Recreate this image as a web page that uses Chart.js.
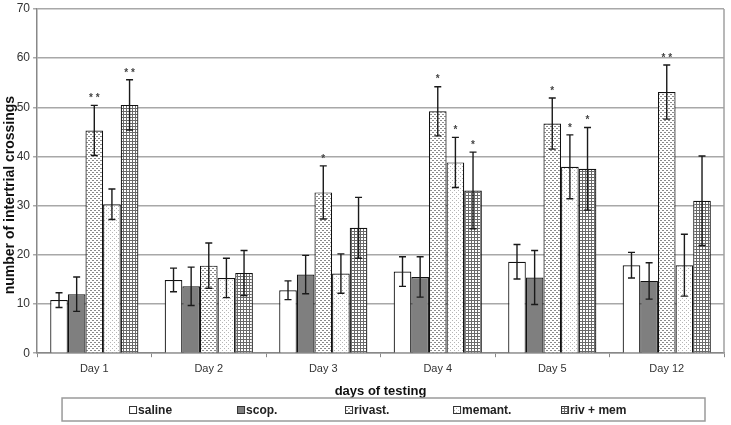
<!DOCTYPE html>
<html>
<head>
<meta charset="utf-8">
<script src="https://cdn.jsdelivr.net/npm/chart.js@4/dist/chart.umd.min.js"></script>
<style>
  body { margin: 0; background: #fff; }
  #wrap { width: 731px; height: 425px; }
</style>
</head>
<body>
<div id="wrap"><canvas id="myChart" width="731" height="425"></canvas></div>
<script>
// data
const days = ["Day 1", "Day 2", "Day 3", "Day 4", "Day 5", "Day 12"];

const saline = [10.8, 14.9, 12.8, 16.6, 18.6, 17.9];
const salineErr = [1.5, 2.4, 1.9, 3.0, 3.5, 2.6];
const scop = [12.0, 13.6, 16.0, 15.5, 15.4, 14.7];
const scopErr = [3.5, 3.9, 3.9, 4.1, 5.5, 3.7];
const rivast = [45.3, 17.8, 32.7, 49.2, 46.7, 53.1];
const rivastErr = [5.1, 4.6, 5.4, 5.0, 5.2, 5.5];
const memant = [30.3, 15.3, 16.2, 38.8, 37.9, 17.9];
const memantErr = [3.1, 4.0, 4.0, 5.1, 6.5, 6.3];
const rivMem = [50.5, 16.3, 25.5, 33.1, 37.5, 31.0];
const rivMemErr = [5.1, 4.6, 6.2, 7.8, 8.4, 9.1];

// significance marks
const rivastSig = ["**", "", "*", "*", "*", "**"];
const memantSig = ["", "", "", "*", "*", ""];
const rivMemSig = ["**", "", "", "*", "*", ""];

const yTicks = [0, 10, 20, 30, 40, 50, 60, 70];
const yTitle = "number of intertrial crossings";

const FONT = "'Liberation Sans', Arial, sans-serif";

// hatch fills like the old excel patterns
function makePattern(size, draw) {
    const c = document.createElement("canvas");
    c.width = size;
    c.height = size;
    const g = c.getContext("2d");
    g.fillStyle = "#fff";
    g.fillRect(0, 0, size, size);
    draw(g);
    return document.getElementById("myChart").getContext("2d").createPattern(c, "repeat");
}

const dotsDense = makePattern(4, (g) => {
    g.fillStyle = "#8a8a8a";
    g.fillRect(0, 0, 2, 1);
    g.fillRect(2, 2, 2, 1);
});
const dotsLight = makePattern(4, (g) => {
    g.fillStyle = "#b5b5b5";
    g.fillRect(0, 0, 1, 1);
    g.fillRect(2, 2, 1, 1);
});
const smallGrid = makePattern(3, (g) => {
    g.fillStyle = "#6a6a6a";
    g.fillRect(0, 0, 3, 1);
    g.fillRect(0, 0, 1, 3);
});

const errBars = {
    id: "errBars",
    afterDatasetsDraw(chart) {
        const ctx = chart.ctx;
        const y = chart.scales.y;
        ctx.save();
        chart.data.datasets.forEach((ds, i) => {
            const meta = chart.getDatasetMeta(i);
            meta.data.forEach((bar, j) => {
                const v = ds.data[j];
                const e = ds.err[j];
                const top = y.getPixelForValue(v + e);
                const bot = y.getPixelForValue(v - e);
                ctx.strokeStyle = "#1a1a1a";
                ctx.lineWidth = 1.4;
                ctx.beginPath();
                ctx.moveTo(bar.x, top);
                ctx.lineTo(bar.x, bot);
                ctx.moveTo(bar.x - 3.5, top);
                ctx.lineTo(bar.x + 3.5, top);
                ctx.moveTo(bar.x - 3.5, bot);
                ctx.lineTo(bar.x + 3.5, bot);
                ctx.stroke();
                if (ds.sig && ds.sig[j]) {
                    ctx.fillStyle = "#444";
                    ctx.font = "bold 10px " + FONT;
                    ctx.textAlign = "center";
                    ctx.textBaseline = "bottom";
                    ctx.fillText(ds.sig[j].split("").join(" "), bar.x, top - 2);
                }
            });
        });
        ctx.restore();
    },
};

// right edge of the plot, y title, boxed legend under the axis title
const frame = {
    id: "frame",
    afterDraw(chart) {
        const ctx = chart.ctx;
        const a = chart.chartArea;
        ctx.save();
        ctx.strokeStyle = "#a0a0a0";
        ctx.lineWidth = 1.5;
        ctx.beginPath();
        ctx.moveTo(a.right, a.top);
        ctx.lineTo(a.right, a.bottom);
        ctx.stroke();

        // y title sits a bit low in the original
        ctx.save();
        ctx.translate(10, (a.top + a.bottom) / 2 + 14);
        ctx.rotate(-Math.PI / 2);
        ctx.fillStyle = "#111";
        ctx.font = "bold 14px " + FONT;
        ctx.textAlign = "center";
        ctx.textBaseline = "middle";
        ctx.fillText(yTitle, 0, 0);
        ctx.restore();

        const boxTop = chart.height - 27;
        ctx.strokeStyle = "#9a9a9a";
        ctx.strokeRect(a.left + 25, boxTop, a.right - a.left - 19 - 25, 23);

        const midY = boxTop + 12;
        const step = 108;
        ctx.font = "bold 12px " + FONT;
        ctx.textBaseline = "middle";
        ctx.textAlign = "left";
        chart.data.datasets.forEach((ds, i) => {
            const x = a.left + 92 + i * step;
            ctx.fillStyle = ds.backgroundColor;
            ctx.fillRect(x, midY - 4, 7, 7);
            ctx.strokeStyle = "#333";
            ctx.lineWidth = 1;
            ctx.strokeRect(x + 0.5, midY - 3.5, 7, 7);
            ctx.fillStyle = "#222";
            ctx.fillText(ds.label, x + 9, midY + 1);
        });
        ctx.restore();
    },
};

const ctx = document.getElementById("myChart").getContext("2d");
const myChart = new Chart(ctx, {
    type: "bar",
    data: {
        labels: days,
        datasets: [
            { label: "saline", data: saline, err: salineErr, backgroundColor: "#ffffff" },
            { label: "scop.", data: scop, err: scopErr, backgroundColor: "#7f7f7f" },
            { label: "rivast.", data: rivast, err: rivastErr, sig: rivastSig, backgroundColor: dotsDense },
            { label: "memant.", data: memant, err: memantErr, sig: memantSig, backgroundColor: dotsLight },
            { label: "riv + mem", data: rivMem, err: rivMemErr, sig: rivMemSig, backgroundColor: smallGrid },
        ].map((d) => Object.assign(d, {
            borderColor: "#111",
            borderWidth: 1.2,
            categoryPercentage: 0.77,
            barPercentage: 1.0,
        })),
    },
    options: {
        responsive: false,
        animation: false,
        layout: { padding: { top: 1, right: 7, left: 13.7, bottom: 26 } },
        plugins: {
            tooltip: { enabled: false },
            legend: { display: false },
        },
        scales: {
            x: {
                grid: {
                    offset: true,
                    drawOnChartArea: false,
                    drawTicks: true,
                    tickLength: 4,
                    color: "#888",
                },
                border: { color: "#888", width: 1.5 },
                ticks: { color: "#333", font: { family: FONT, size: 11 }, padding: 5 },
                title: {
                    display: true,
                    text: "days of testing",
                    color: "#111",
                    font: { family: FONT, size: 13, weight: "bold" },
                    padding: { top: 3, bottom: 0 },
                },
            },
            y: {
                min: 0,
                max: 70,
                afterBuildTicks: (axis) => {
                    axis.ticks = yTicks.map((v) => ({ value: v }));
                },
                grid: { color: "#a8a8a8", lineWidth: 1.5, tickLength: 4 },
                border: { color: "#888", width: 1.5 },
                ticks: { color: "#333", font: { family: FONT, size: 12, lineHeight: 1.0 }, padding: 3 },
            },
        },
    },
    plugins: [errBars, frame],
});
</script>
</body>
</html>
